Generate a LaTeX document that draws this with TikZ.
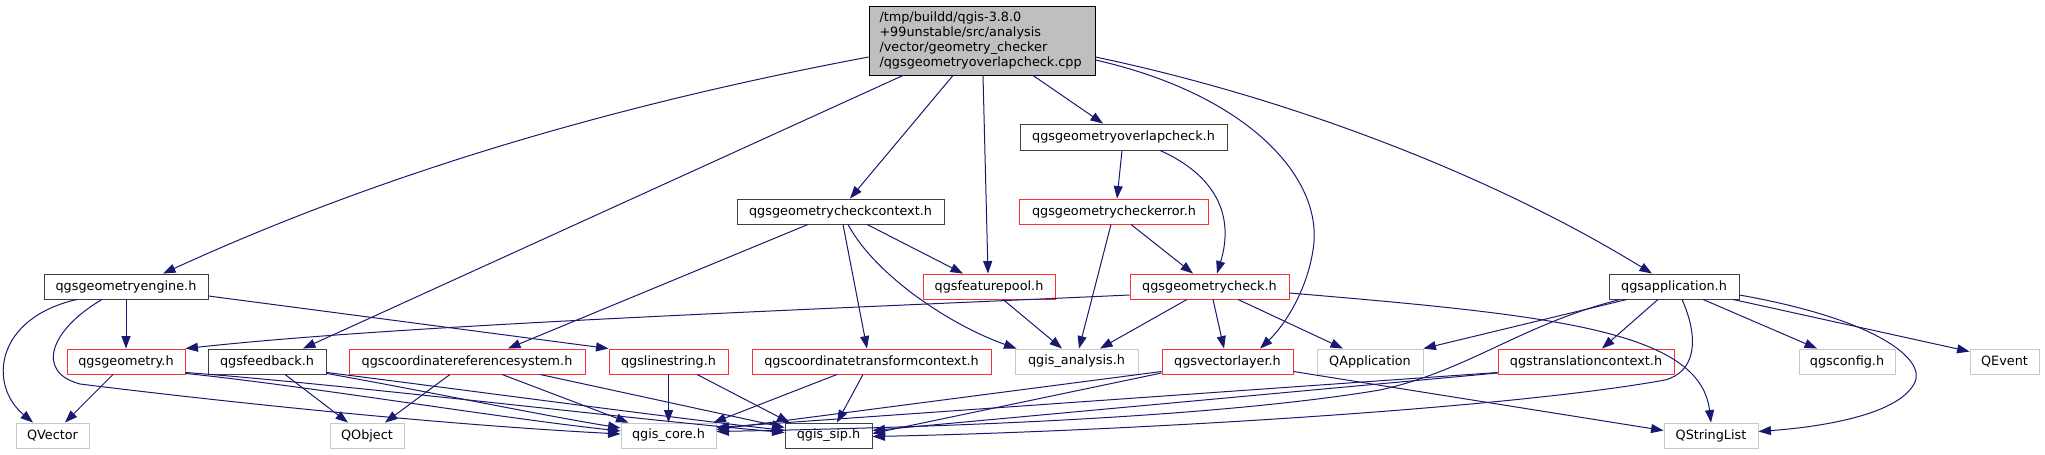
\documentclass[tikz,border=0pt]{standalone}
\usepackage{fontspec}
\setmainfont{DejaVu Sans}
\usetikzlibrary{arrows.meta}
\definecolor{edgec}{HTML}{191970}
\definecolor{bdark}{HTML}{404040}
\definecolor{bred}{HTML}{FF3030}
\definecolor{bgray}{HTML}{C8C8C8}
\definecolor{rootfill}{HTML}{BFBFBF}
\begin{document}
\begin{tikzpicture}[x=1pt,y=-1pt,
  nb/.style={draw, line width=0.9pt, fill=white, inner sep=0pt, minimum height=25pt, font=\fontsize{12.8}{14.7}\selectfont},
  docbox/.style={nb, draw=bdark},
  redbox/.style={nb, draw=bred},
  extbox/.style={nb, draw=bgray},
  dep/.style={draw=edgec, line width=1pt, -{Triangle[length=12.5pt,width=9pt]}},
]
\useasboundingbox (0,0) rectangle (2045,455);

% nodes
\node[nb, draw=black, fill=rootfill, minimum width=226pt, minimum height=69pt, text width=205pt, align=left, inner xsep=10.5pt] (root) at (982,40.5) {/tmp/buildd/qgis-3.8.0\\+99unstable/src/analysis\\/vector/geometry\_checker\\/qgsgeometryoverlapcheck.cpp};
\node[docbox, minimum width=207pt, minimum height=26pt] (ovl) at (1123.5,137) {qgsgeometryoverlapcheck.h};
\node[docbox, minimum width=207pt] (ctx) at (840.5,211.5) {qgsgeometrycheckcontext.h};
\node[redbox, minimum width=189pt] (err) at (1114,211.5) {qgsgeometrycheckerror.h};
\node[docbox, minimum width=164pt] (eng) at (126,286.5) {qgsgeometryengine.h};
\node[redbox, minimum width=132pt] (pool) at (989,286.5) {qgsfeaturepool.h};
\node[redbox, minimum width=159pt] (chk) at (1209.5,286.5) {qgsgeometrycheck.h};
\node[docbox, minimum width=130pt] (app) at (1674,286.5) {qgsapplication.h};
\node[redbox, minimum width=118pt] (geom) at (126,361.5) {qgsgeometry.h};
\node[docbox, minimum width=118pt] (fb) at (267,361.5) {qgsfeedback.h};
\node[redbox, minimum width=236pt] (crs) at (467,361.5) {qgscoordinatereferencesystem.h};
\node[redbox, minimum width=119pt] (ls) at (668.5,361.5) {qgslinestring.h};
\node[redbox, minimum width=239pt] (ctc) at (871.5,361.5) {qgscoordinatetransformcontext.h};
\node[extbox, minimum width=123pt] (ana) at (1076.5,361.5) {qgis\_analysis.h};
\node[redbox, minimum width=131pt] (vl) at (1227.5,361.5) {qgsvectorlayer.h};
\node[extbox, minimum width=106pt] (qapp) at (1370,361.5) {QApplication};
\node[redbox, minimum width=176pt] (tc) at (1586,361.5) {qgstranslationcontext.h};
\node[extbox, minimum width=96pt] (cfg) at (1847,361.5) {qgsconfig.h};
\node[extbox, minimum width=69pt] (qev) at (2004.5,361.5) {QEvent};
\node[extbox, minimum width=73pt] (qvec) at (52.5,435.5) {QVector};
\node[extbox, minimum width=74pt] (qobj) at (367,435.5) {QObject};
\node[extbox, minimum width=95pt] (core) at (668.5,435.5) {qgis\_core.h};
\node[docbox, minimum width=87pt] (sip) at (828.5,435.5) {qgis\_sip.h};
\node[extbox, minimum width=94pt] (qsl) at (1711,435.5) {QStringList};

% root
\draw[dep] ([yshift=-16.5pt]root.west) .. controls (640,100) and (400,165) .. ([xshift=37pt]eng.north);
\draw[dep] ([xshift=-79pt]root.south) -- ([xshift=36pt]fb.north);
\draw[dep] ([xshift=-29pt]root.south) -- ([xshift=9.5pt]ctx.north);
\draw[dep] ([xshift=1pt]root.south) -- ([xshift=-1pt]pool.north);
\draw[dep] ([xshift=51pt]root.south) -- ([xshift=-20.5pt]ovl.north);
\draw[dep] ([yshift=-19.5pt]root.east) .. controls (1250,95) and (1325,180) .. (1313,250) .. controls (1307,290) and (1285,325) .. ([xshift=32.5pt]vl.north);
\draw[dep] ([yshift=-16.5pt]root.east) .. controls (1300,100) and (1500,180) .. ([xshift=-22pt]app.north);
% overlapcheck
\draw[dep] ([xshift=-1.5pt]ovl.south) -- ([xshift=3pt]err.north);
\draw[dep] ([xshift=36.5pt]ovl.south) .. controls (1215,175) and (1235,215) .. ([xshift=7.5pt]chk.north);
% checkcontext
\draw[dep] ([xshift=-32.5pt]ctx.south) -- ([xshift=41pt]crs.north);
\draw[dep] ([xshift=2.5pt]ctx.south) -- ([xshift=-4.5pt]ctc.north);
\draw[dep] ([xshift=7.5pt]ctx.south) .. controls (875,275) and (950,325) .. ([xshift=2pt]ana.north west);
\draw[dep] ([xshift=26.5pt]ctx.south) -- ([xshift=-26pt]pool.north);
% checkerror
\draw[dep] ([xshift=-3pt]err.south) -- ([xshift=2.5pt]ana.north);
\draw[dep] ([xshift=17pt]err.south) -- ([xshift=-16.5pt]chk.north);
% featurepool
\draw[dep] ([xshift=14pt]pool.south) -- ([xshift=-14.5pt]ana.north);
% geometrycheck
\draw[dep] ([yshift=-8.5pt]chk.west) .. controls (800,310) and (400,325) .. (geom.north east);
\draw[dep] ([xshift=-22.5pt]chk.south) -- ([xshift=23.5pt]ana.north);
\draw[dep] ([xshift=3.5pt]chk.south) -- ([xshift=-3.5pt]vl.north);
\draw[dep] ([xshift=28.5pt]chk.south) -- ([xshift=-27pt]qapp.north);
\draw[dep] ([yshift=-6.5pt]chk.east) .. controls (1550,315) and (1700,330) .. (qsl.north);
% geometryengine
\draw[dep] ([xshift=-49pt]eng.south) .. controls (-5,318) and (-12,385) .. ([xshift=-19.5pt]qvec.north);
\draw[dep] ([xshift=-24pt]eng.south) .. controls (50,330) and (35,372) .. (80,384) .. controls (250,405) and (450,425) .. ([yshift=1.5pt]core.west);
\draw[dep] (eng.south) -- (geom.north);
\draw[dep] ([yshift=-9.5pt]eng.east) -- (ls.north west);
% geometry
\draw[dep] ([xshift=-13pt]geom.south) -- ([xshift=12.5pt]qvec.north);
\draw[dep] ([yshift=1pt]geom.south east) .. controls (300,385) and (500,418) .. ([yshift=4.5pt]core.west);
\draw[dep] ([yshift=2pt]geom.south east) .. controls (350,385) and (620,418) .. ([yshift=3pt]sip.west);
% feedback
\draw[dep] ([xshift=18pt]fb.south) -- ([xshift=-19pt]qobj.north);
\draw[dep] ([yshift=1pt]fb.south east) .. controls (420,390) and (540,415) .. ([yshift=7.5pt]core.west);
\draw[dep] ([yshift=2pt]fb.south east) .. controls (450,388) and (650,415) .. ([yshift=5pt]sip.west);
% crs
\draw[dep] ([xshift=-17pt]crs.south) -- ([xshift=18pt]qobj.north);
\draw[dep] ([xshift=35pt]crs.south) -- ([xshift=-40pt]core.north);
\draw[dep] ([xshift=73pt]crs.south) -- ([yshift=8pt]sip.west);
% linestring
\draw[dep] (ls.south) -- (core.north);
\draw[dep] ([xshift=28.5pt]ls.south) -- ([xshift=5pt]sip.north west);
% coordinatetransformcontext
\draw[dep] ([xshift=-34.5pt]ctc.south) -- ([xshift=45pt]core.north);
\draw[dep] ([xshift=-8.5pt]ctc.south) -- ([xshift=8.5pt]sip.north);
% vectorlayer
\draw[dep] ([yshift=-10pt]vl.west) -- ([yshift=6pt]core.east);
\draw[dep] ([yshift=-11.5pt]vl.west) -- ([yshift=2pt]sip.east);
\draw[dep] ([yshift=-10pt]vl.east) -- ([yshift=5pt]qsl.west);
% translationcontext
\draw[dep] ([yshift=-11pt]tc.west) -- ([yshift=8pt]core.east);
\draw[dep] ([yshift=-11.5pt]tc.west) -- ([yshift=5pt]sip.east);
% application
\draw[dep] ([xshift=-16pt]app.south) -- ([xshift=16pt]tc.north);
\draw[dep] ([xshift=29pt]app.south) -- ([xshift=-30pt]cfg.north);
\draw[dep] ([xshift=59pt]app.south) -- ([yshift=-3pt]qev.north west);
\draw[dep] ([xshift=-47pt]app.south) -- (qapp.north east);
\draw[dep] ([yshift=-8.5pt]app.east) .. controls (1880,320) and (1925,360) .. (1915,382) .. controls (1900,415) and (1820,427) .. ([yshift=4pt]qsl.east);
\draw[dep] ([xshift=-54pt]app.south) .. controls (1520,325) and (1470,370) .. (1380,390) .. controls (1200,420) and (900,428) .. ([yshift=4pt]core.east);
\draw[dep] ([xshift=8pt]app.south) .. controls (1700,340) and (1695,372) .. (1665,380) .. controls (1500,410) and (1100,432) .. ([yshift=-1pt]sip.east);
\end{tikzpicture}
\end{document}
